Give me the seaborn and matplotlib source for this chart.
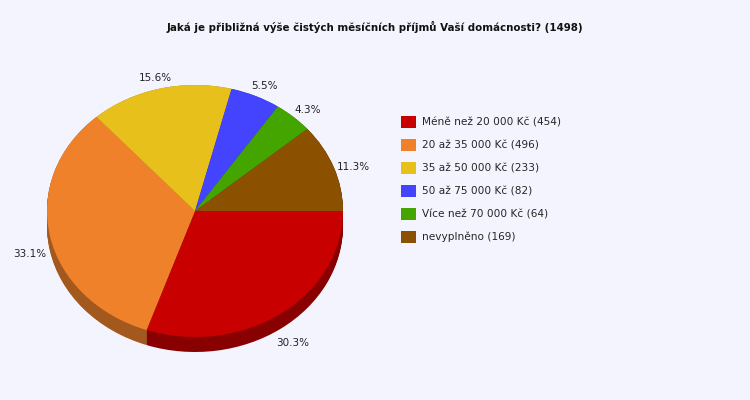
import numpy as np
import matplotlib
matplotlib.use("Agg")
import matplotlib.pyplot as plt
import matplotlib.colors as mcolors
from matplotlib.patches import Patch
import seaborn as sns

# data
title = "Jaká je přibližná výše čistých měsíčních příjmů Vaší domácnosti? (1498)"
categories = ["Méně než 20 000 Kč", "20 až 35 000 Kč", "35 až 50 000 Kč",
              "50 až 75 000 Kč", "Více než 70 000 Kč", "nevyplněno"]
counts = [454, 496, 233, 82, 64, 169]
colors = ["#c80000", "#ef812a", "#e8c01c", "#4444ff", "#44a400", "#8b5000"]

bg = "#f4f4ff"
sns.set_theme(style="white")
plt.rcParams["font.family"] = ["DejaVu Sans"]

fig = plt.figure(figsize=(7.5, 4), dpi=100, facecolor=bg)

# pie centre ~ (195, 211) px from top, rx 148 px, ry 126 px
W, H = 750, 400
cx, cy, rx, ry = 195, 400 - 211, 148, 126
xl, yl = (-1.3, 1.3), (-1.4, 1.2)
left = (cx + xl[0] * rx) / W
bottom = (cy + yl[0] * ry) / H
ax = fig.add_axes([left, bottom, (xl[1] - xl[0]) * rx / W, (yl[1] - yl[0]) * ry / H])
ax.set_facecolor(bg)

depth = 15 / ry
dark = [tuple(np.array(mcolors.to_rgb(c)) * 0.68) for c in colors]

# side of the "3D" pie
for k in np.linspace(depth, 0, 16):
    ax.pie(counts, colors=dark, startangle=0, counterclock=False,
           center=(0, -k), wedgeprops=dict(linewidth=0))

wedges, texts, autotexts = ax.pie(
    counts, colors=colors, startangle=0, counterclock=False,
    autopct="%.1f%%", pctdistance=1.14, wedgeprops=dict(linewidth=0),
    textprops=dict(fontsize=7.5, color="#222222"))

# labels sit a bit lower, lower half pushed below the rim
for t in autotexts:
    x, y = t.get_position()
    shift = 0.05 + (0.55 * depth if y < 0 else 0)
    t.set_position((x, y - shift))

ax.set_aspect("auto")
ax.set_xlim(*xl)
ax.set_ylim(*yl)
ax.axis("off")

fig.text(0.5, 1 - 27 / H, title, ha="center", va="center",
         fontsize=7.4, fontweight="bold", color="#111111")

handles = [Patch(facecolor=c, edgecolor="none") for c in colors]
labels = [f"{c} ({n})" for c, n in zip(categories, counts)]
fig.legend(handles, labels, loc="upper left", bbox_to_anchor=(397 / W, 1 - 112 / H),
           frameon=False, fontsize=7.6, handlelength=1.38, handleheight=1.38,
           handletextpad=0.6, labelspacing=1.03, borderaxespad=0)

fig.savefig("out.png", dpi=100, facecolor=bg)
